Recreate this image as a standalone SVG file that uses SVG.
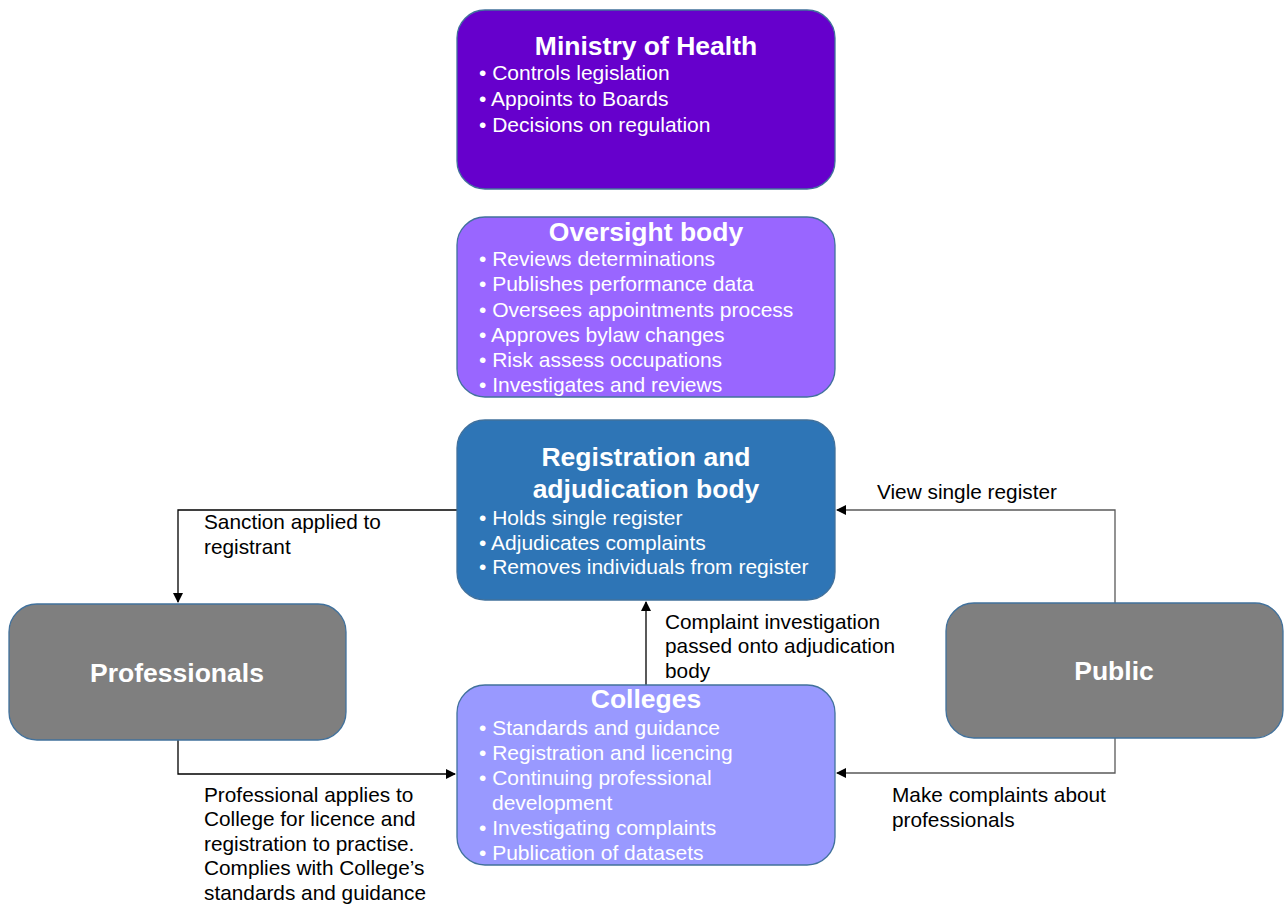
<svg xmlns="http://www.w3.org/2000/svg" width="1288" height="909" viewBox="0 0 1288 909">
<defs>
<marker id="arr" markerWidth="10" markerHeight="10" refX="9" refY="5" orient="auto" markerUnits="userSpaceOnUse">
<path d="M0,0 L10,5 L0,10 Z" fill="#000"/>
</marker>
<style>
.box{stroke:#41719C;stroke-width:1.3}
.title{font-family:"Liberation Sans",Arial,sans-serif;font-weight:bold;font-size:26.5px;fill:#fff;text-anchor:middle}
.item{font-family:"Liberation Sans",Arial,sans-serif;font-size:21px;fill:#fff}
.lbl{font-family:"Liberation Sans",Arial,sans-serif;font-size:20.8px;fill:#000}
.conn{fill:none;stroke:#000;stroke-width:1.3}
.gconn{fill:none;stroke:#595959;stroke-width:1.3}
</style>
</defs>
<rect width="1288" height="909" fill="#fff"/>

<g id="connectors">
<path class="conn" d="M457,510 H178 V602" marker-end="url(#arr)"/>
<path class="conn" d="M178,740 V774 H455" marker-end="url(#arr)"/>
<path class="conn" d="M646,685 V602" marker-end="url(#arr)"/>
<path class="gconn" d="M1115,603 V510 H837" marker-end="url(#arr)"/>
<path class="gconn" d="M1115,738 V773 H837" marker-end="url(#arr)"/>
<text class="lbl" x="204" y="529">Sanction applied to</text>
<text class="lbl" x="204" y="554">registrant</text>
<text class="lbl" x="204" y="802">Professional applies to</text>
<text class="lbl" x="204" y="826">College for licence and</text>
<text class="lbl" x="204" y="851">registration to practise.</text>
<text class="lbl" x="204" y="875">Complies with College’s</text>
<text class="lbl" x="204" y="900">standards and guidance</text>
<text class="lbl" x="665" y="629">Complaint investigation</text>
<text class="lbl" x="665" y="653">passed onto adjudication</text>
<text class="lbl" x="665" y="678">body</text>
<text class="lbl" x="877" y="499">View single register</text>
<text class="lbl" x="892" y="802">Make complaints about</text>
<text class="lbl" x="892" y="827">professionals</text>
</g>

<g id="ministry">
<rect class="box" x="457" y="10" width="378" height="179" rx="28" fill="#6600CC"/>
<text class="title" x="646" y="55">Ministry of Health</text>
<text class="item" x="479" y="80">• Controls legislation</text>
<text class="item" x="479" y="106">• Appoints to Boards</text>
<text class="item" x="479" y="132">• Decisions on regulation</text>
</g>

<g id="oversight">
<rect class="box" x="457" y="217" width="378" height="180" rx="28" fill="#9966FF"/>
<text class="title" x="646" y="241">Oversight body</text>
<text class="item" x="479" y="266">• Reviews determinations</text>
<text class="item" x="479" y="291">• Publishes performance data</text>
<text class="item" x="479" y="317">• Oversees appointments process</text>
<text class="item" x="479" y="342">• Approves bylaw changes</text>
<text class="item" x="479" y="367">• Risk assess occupations</text>
<text class="item" x="479" y="392">• Investigates and reviews</text>
</g>

<g id="registration">
<rect class="box" x="457" y="420" width="378" height="180" rx="28" fill="#2E75B6"/>
<text class="title" x="646" y="466">Registration and</text>
<text class="title" x="646" y="498">adjudication body</text>
<text class="item" x="479" y="525">• Holds single register</text>
<text class="item" x="479" y="550">• Adjudicates complaints</text>
<text class="item" x="479" y="574">• Removes individuals from register</text>
</g>

<g id="colleges">
<rect class="box" x="457" y="685" width="378" height="180" rx="28" fill="#9999FF"/>
<text class="title" x="646" y="708">Colleges</text>
<text class="item" x="479" y="735">• Standards and guidance</text>
<text class="item" x="479" y="760">• Registration and licencing</text>
<text class="item" x="479" y="785">• Continuing professional</text>
<text class="item" x="492" y="810">development</text>
<text class="item" x="479" y="835">• Investigating complaints</text>
<text class="item" x="479" y="860">• Publication of datasets</text>
</g>

<g id="professionals">
<rect class="box" x="9" y="604" width="337" height="136" rx="28" fill="#7F7F7F"/>
<text class="title" x="177" y="682">Professionals</text>
</g>

<g id="public">
<rect class="box" x="946" y="603" width="337" height="135" rx="28" fill="#7F7F7F"/>
<text class="title" x="1114" y="680">Public</text>
</g>
</svg>
